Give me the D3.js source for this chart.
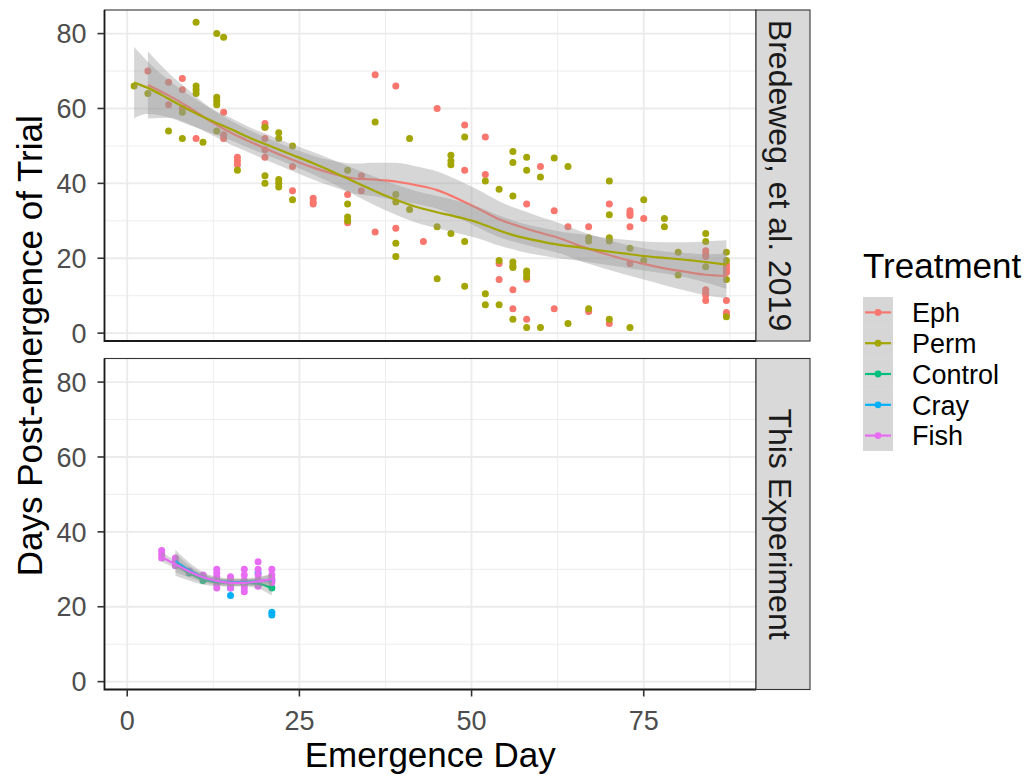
<!DOCTYPE html>
<html>
<head>
<meta charset="utf-8">
<script src="https://cdn.jsdelivr.net/npm/d3@7"></script>
<style>
  body { margin: 0; background: #fff; }
  svg { display: block; font-family: "Liberation Sans", Arial, sans-serif; }
</style>
</head>
<body>
<svg id="chart" width="1033" height="781"></svg>
<script>
// ---- data ----
var treatments = ["Eph", "Perm", "Control", "Cray", "Fish"];
var treatmentColors = ["#F8766D", "#A3A500", "#00BF7D", "#00B0F6", "#E76BF3"];
var facets = ["Bredeweg, et al. 2019", "This Experiment"];
var xTicks = [0, 25, 50, 75];
var yTicks = [0, 20, 40, 60, 80];

// [emergence day, days post-emergence]
var eph = [[3,70],[6,67],[6,61],[8,68],[8,65],[8,60],[10,52],[14,59],[14,53],[14,52],[16,47],[16,46],[16,45],
  [20,56],[20,55],[20,52],[20,49],[20,47],[24,44.5],[24,38],[27,36],[27,35],[27,34.5],[32,37],[32,29.5],
  [34,42],[34,38],[36,69],[36,27],[39,66],[39,28],[43,24.5],[45,60],[49,55.6],[49,43.5],[52,52.4],[52,42.4],
  [54,18.6],[54,14.3],[56,11.6],[56,6.5],[58,34.5],[58,14.4],[58,3.7],[60,44.5],[62,32.7],[62,6.5],[64,28.4],
  [67,28.4],[67,5.8],[70,34.5],[70,2.6],[73,32.7],[73,32],[73,31.4],[73,28.4],[73,18.6],[75,30.6],
  [84,22],[84,21.2],[84,20.5],[84,11.6],[84,10.8],[84,10.1],[84,8.7],[87,18.4],[87,17.7],[87,16.9],[87,16.2],
  [87,8.7],[87,5.5],[87,5.1]];
var perm = [[1,66],[3,64],[6,54],[8,59],[8,52],[10,83],[10,66],[10,65],[10,64],[11,51],[13,80],[14,79],[13,63],
  [13,62],[13,61],[13,54],[16,43.5],[20,55],[20,42],[20,40],[22,53.5],[22,52],[22,41],[22,40],[22,39],[24,50],
  [24,35.6],[32,43.5],[32,34.5],[32,31],[32,30],[36,56.4],[39,37],[39,35],[39,24],[39,20.5],[41,52],[41,33],
  [45,28.4],[45,14.5],[47,47.5],[47,46],[47,45],[47,26.6],[49,52.4],[49,24.5],[49,12.5],[52,40.6],[52,10.5],
  [52,7.6],[54,38.4],[54,19.4],[54,7.6],[56,48.5],[56,45.6],[56,36.6],[56,19],[56,18],[56,17.5],[56,3.7],
  [58,47],[58,43.5],[58,16.6],[58,16],[58,15],[58,1.5],[60,41.7],[60,1.5],[62,46.8],[64,44.5],[64,2.6],
  [67,25.5],[67,24.6],[67,6.5],[70,40.6],[70,31.6],[70,25.5],[70,24.6],[70,3.7],[73,22.7],[73,1.5],
  [75,35.6],[75,19.4],[78,30.6],[78,28.4],[80,21.6],[80,15.5],[84,26.6],[84,24.5],[84,17.7],
  [87,21.6],[87,19.4],[87,14.3],[87,4.4]];
var control = [[7,31],[9,29],[11,27],[13,27],[15,27],[17,26],[19,26],[21,25]];
var cray = [[7,32],[9,29.5],[11,28],[13,27],[15,25],[15,23],[17,26.5],[19,29],[21,27],[21,18.5],[21,17.8]];
var fish = [[5,35],[5,34],[5,33],[7,33],[7,32],[7,31],[9,29.5],[11,28.5],[11,28],[13,30],[13,29],[13,28],
  [13,27],[13,26],[13,25],[15,28],[15,27],[15,26],[15,25],[17,30],[17,28.5],[17,27],[17,26],[17,25],[17,24],
  [19,32],[19,30],[19,28.5],[19,27],[19,25.5],[21,30],[21,28.5],[21,27.5],[21,26.5]];

// loess fits (x, fit, half-width of 95% band) as drawn in the reference
var ephSmoothX = [3,6,9,12,15,18,21,24,27,30,33,36,39,42,45,48,51,54,57,60,63,66,69,72,75,78,81,84,87];
var ephFit =     [66.3,63.5,60.3,56.7,53.6,51,48.6,46.3,44.2,42.5,41.3,41,40.5,39.5,38.2,35.9,33.2,30.4,28.5,26.8,25.2,23.1,21.4,19.8,18.5,17.3,16.4,15.6,15.3];
var ephSe =      [9,6,4.5,3.5,3.2,3,3,3,3.2,3.5,4,4.5,5,5,5,5,5,4.8,4.5,4.2,4,4,4,4,4.2,4.5,5,5.5,6];
var permSmoothX = [1,3,6,9,12,15,18,21,24,27,30,33,36,39,42,45,48,51,54,57,60,63,66,69,72,75,78,81,84,87];
var permFit =     [66.9,65.5,62.6,59.6,56.9,54.5,52,49.8,47.6,45.4,43,40.4,37.9,35.6,33.7,32.3,31,29.5,27.4,25.7,24.5,23.5,22.8,22,21.3,20.6,20.1,19.6,19,18.3];
var permSe =      [9.5,7,5,4,3.3,3,2.8,2.8,2.8,3,3.2,3.5,3.8,4,4.2,4.3,4.3,4.2,4,3.8,3.7,3.6,3.6,3.6,3.7,3.9,4.2,4.7,5.5,6.5];
var controlSmoothX = [7,9,11,13,15,17,19,21];
var controlFit =     [31.3,29,27.3,26.6,26.4,26.4,26.2,25];
var controlSe =      [3,2,1.4,1.1,1,1,1.3,2];
var craySmoothX = [7,9,11,13,15,17,19,21];
var crayFit =     [32.2,29.8,27.9,26.9,26.6,26.6,26.8,27.2];
var craySe =      [3,2,1.4,1.1,1,1,1.2,1.6];
var fishSmoothX = [5,7,9,11,13,15,17,19,21];
var fishFit =     [33.3,31.3,29.4,27.9,26.9,26.4,26.4,26.8,27.4];
var fishSe =      [1.3,1,0.9,0.8,0.8,0.8,0.8,0.9,1.2];

// ---- layout ----
var svg = d3.select("#chart");
var color = d3.scaleOrdinal().domain(treatments).range(treatmentColors);

var x = d3.scaleLinear().domain([-3.3, 91.3]).range([104.5, 756]);
var panels = [
  { name: facets[0], top: 10, bottom: 341 },
  { name: facets[1], top: 358.5, bottom: 689.5 }
];
var stripW = 54;

var groups = [
  { panel: 0, key: "Eph", pts: eph, sx: ephSmoothX, fit: ephFit, se: ephSe },
  { panel: 0, key: "Perm", pts: perm, sx: permSmoothX, fit: permFit, se: permSe },
  { panel: 1, key: "Control", pts: control, sx: controlSmoothX, fit: controlFit, se: controlSe },
  { panel: 1, key: "Cray", pts: cray, sx: craySmoothX, fit: crayFit, se: craySe },
  { panel: 1, key: "Fish", pts: fish, sx: fishSmoothX, fit: fishFit, se: fishSe }
];

panels.forEach(function(p, pi) {
  var y = d3.scaleLinear().domain([-2.1, 86.3]).range([p.bottom, p.top]);
  var g = svg.append("g");

  // background + grid
  g.append("rect").attr("x", x.range()[0]).attr("y", p.top)
    .attr("width", x.range()[1] - x.range()[0]).attr("height", p.bottom - p.top)
    .attr("fill", "#fff");

  var minorX = [12.5, 37.5, 62.5, 87.5], minorY = [10, 30, 50, 70];
  g.selectAll(".mx").data(minorX).enter().append("line")
    .attr("x1", x).attr("x2", x).attr("y1", p.top).attr("y2", p.bottom)
    .attr("stroke", "#EBEBEB").attr("stroke-width", 0.9);
  g.selectAll(".my").data(minorY).enter().append("line")
    .attr("x1", x.range()[0]).attr("x2", x.range()[1]).attr("y1", y).attr("y2", y)
    .attr("stroke", "#EBEBEB").attr("stroke-width", 0.9);
  g.selectAll(".gx").data(xTicks).enter().append("line")
    .attr("x1", x).attr("x2", x).attr("y1", p.top).attr("y2", p.bottom)
    .attr("stroke", "#EBEBEB").attr("stroke-width", 1.8);
  g.selectAll(".gy").data(yTicks).enter().append("line")
    .attr("x1", x.range()[0]).attr("x2", x.range()[1]).attr("y1", y).attr("y2", y)
    .attr("stroke", "#EBEBEB").attr("stroke-width", 1.8);

  var pg = groups.filter(function(d) { return d.panel === pi; });

  // points
  pg.forEach(function(grp) {
    g.selectAll(null).data(grp.pts).enter().append("circle")
      .attr("cx", function(d) { return x(d[0]); })
      .attr("cy", function(d) { return y(d[1]); })
      .attr("r", 3.5)
      .attr("fill", color(grp.key));
  });

  // smooths: ribbon then line per group
  pg.forEach(function(grp) {
    var rows = grp.sx.map(function(v, i) { return { x: v, f: grp.fit[i], s: grp.se[i] }; });
    g.append("path").datum(rows)
      .attr("d", d3.area().curve(d3.curveMonotoneX)
        .x(function(d) { return x(d.x); })
        .y0(function(d) { return y(d.f - d.s); })
        .y1(function(d) { return y(d.f + d.s); }))
      .attr("fill", "#999999").attr("fill-opacity", 0.4);
    g.append("path").datum(rows)
      .attr("d", d3.line().curve(d3.curveMonotoneX)
        .x(function(d) { return x(d.x); })
        .y(function(d) { return y(d.f); }))
      .attr("fill", "none").attr("stroke", color(grp.key)).attr("stroke-width", 2.2);
  });

  // border
  g.append("rect").attr("x", x.range()[0]).attr("y", p.top)
    .attr("width", x.range()[1] - x.range()[0]).attr("height", p.bottom - p.top)
    .attr("fill", "none").attr("stroke", "#333333").attr("stroke-width", 1.1);
  g.append("path")
    .attr("d", "M" + x.range()[0] + "," + p.top + "V" + p.bottom + "H" + x.range()[1])
    .attr("fill", "none").attr("stroke", "#1a1a1a").attr("stroke-width", 1.8);

  // y axis
  var ya = g.append("g");
  ya.selectAll("line").data(yTicks).enter().append("line")
    .attr("x1", x.range()[0] - 7).attr("x2", x.range()[0]).attr("y1", y).attr("y2", y)
    .attr("stroke", "#333333").attr("stroke-width", 1.6);
  ya.selectAll("text").data(yTicks).enter().append("text")
    .attr("x", x.range()[0] - 18).attr("y", y).attr("dy", "0.36em")
    .attr("text-anchor", "end").attr("font-size", 27).attr("fill", "#4D4D4D")
    .text(function(d) { return d; });

  // strip
  g.append("rect").attr("x", x.range()[1]).attr("y", p.top)
    .attr("width", stripW).attr("height", p.bottom - p.top)
    .attr("fill", "#D9D9D9").attr("stroke", "#333333").attr("stroke-width", 1.1);
  g.append("text")
    .attr("transform", "translate(" + (x.range()[1] + 13) + "," + ((p.top + p.bottom) / 2) + ") rotate(90)")
    .attr("text-anchor", "middle").attr("font-size", 32).attr("fill", "#1A1A1A")
    .text(p.name);
});

// x axis (bottom panel only)
var bottom = panels[1].bottom;
var xa = svg.append("g");
xa.selectAll("line").data(xTicks).enter().append("line")
  .attr("x1", x).attr("x2", x).attr("y1", bottom).attr("y2", bottom + 7)
  .attr("stroke", "#333333").attr("stroke-width", 1.6);
xa.selectAll("text").data(xTicks).enter().append("text")
  .attr("x", x).attr("y", bottom + 40)
  .attr("text-anchor", "middle").attr("font-size", 27).attr("fill", "#4D4D4D")
  .text(function(d) { return d; });

// axis titles
svg.append("text")
  .attr("x", (x.range()[0] + x.range()[1]) / 2).attr("y", 767)
  .attr("text-anchor", "middle").attr("font-size", 35).attr("fill", "#000")
  .text("Emergence Day");
svg.append("text")
  .attr("transform", "translate(42," + ((panels[0].top + panels[1].bottom) / 2 - 4) + ") rotate(-90)")
  .attr("text-anchor", "middle").attr("font-size", 35).attr("fill", "#000")
  .text("Days Post-emergence of Trial");

// legend
var legend = svg.append("g").attr("transform", "translate(863,0)");
legend.append("text").attr("x", 0).attr("y", 278)
  .attr("font-size", 35).attr("fill", "#000").text("Treatment");
var keyH = 30.8, keyTop = 297;
var keys = legend.selectAll(".key").data(treatments).enter().append("g")
  .attr("transform", function(d, i) { return "translate(0," + (keyTop + i * keyH) + ")"; });
keys.append("rect").attr("width", 30).attr("height", keyH)
  .attr("fill", "#999999").attr("fill-opacity", 0.4);
keys.append("line").attr("x1", 2).attr("x2", 28).attr("y1", keyH / 2).attr("y2", keyH / 2)
  .attr("stroke", function(d) { return color(d); }).attr("stroke-width", 2.2);
keys.append("circle").attr("cx", 15).attr("cy", keyH / 2).attr("r", 3.4)
  .attr("fill", function(d) { return color(d); });
keys.append("text").attr("x", 49).attr("y", keyH / 2).attr("dy", "0.36em")
  .attr("font-size", 27).attr("fill", "#000").text(function(d) { return d; });
</script>
</body>
</html>
